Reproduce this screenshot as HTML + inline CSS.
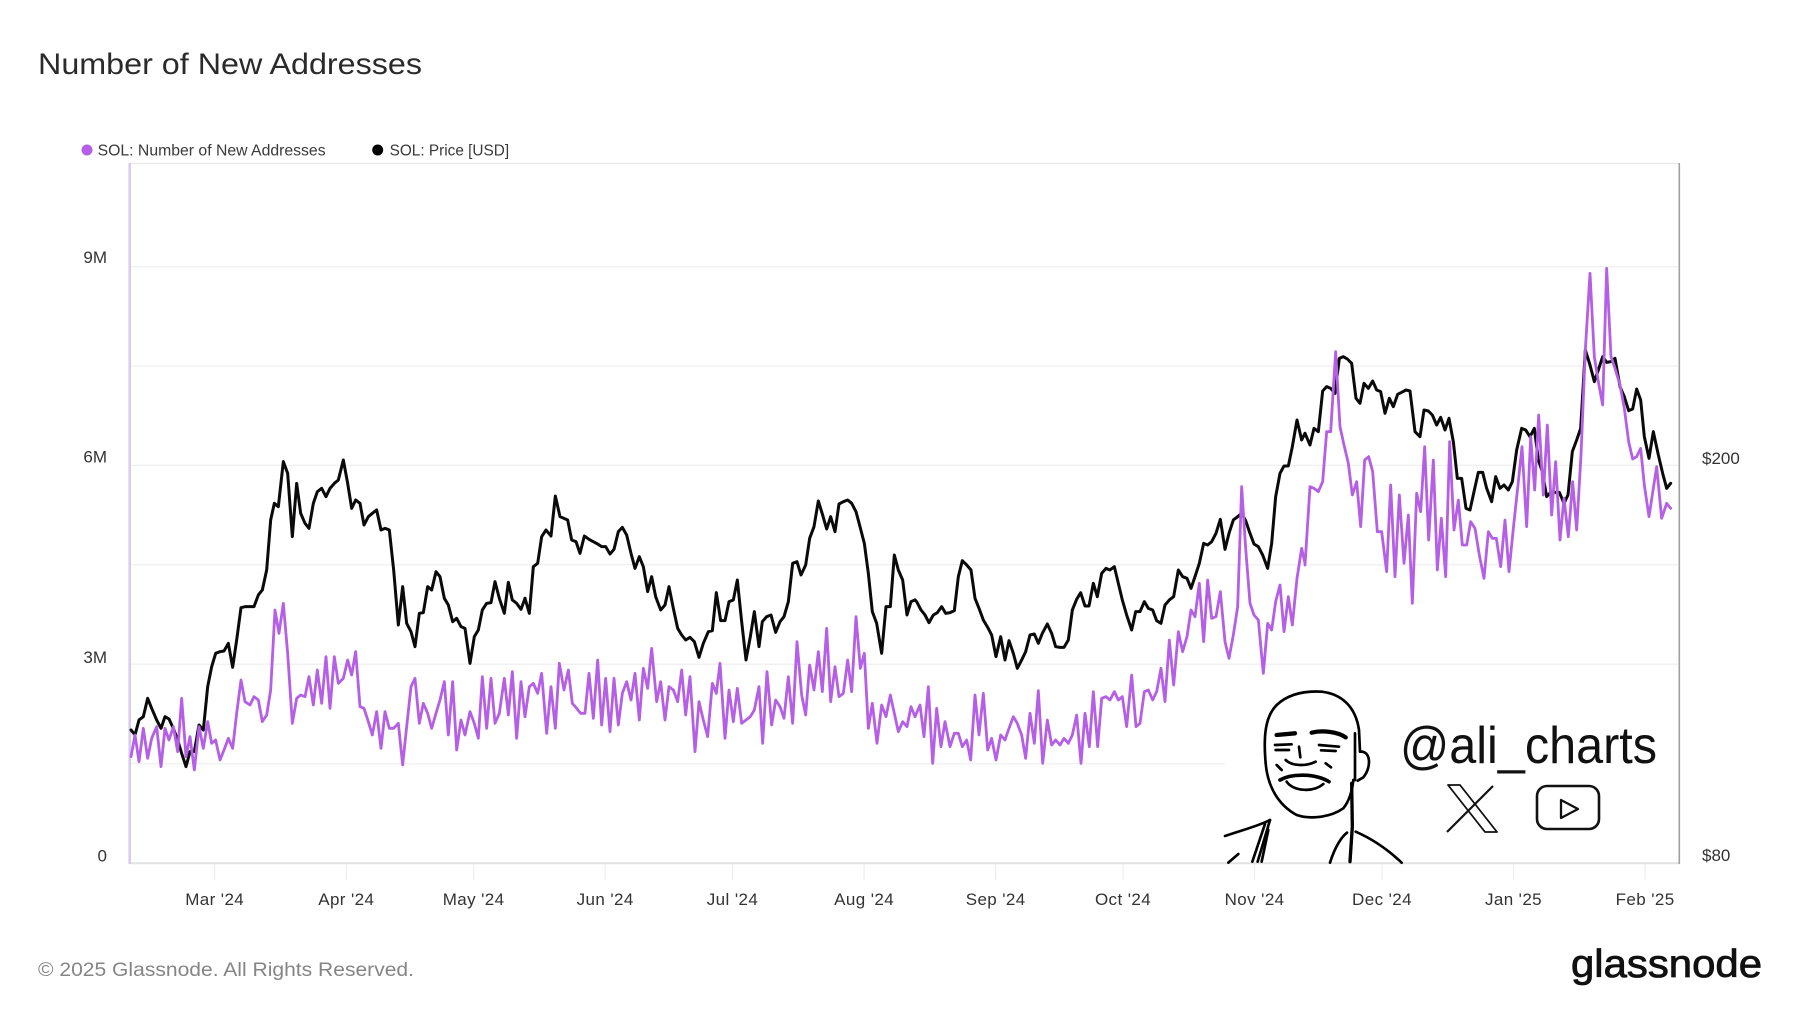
<!DOCTYPE html>
<html><head><meta charset="utf-8"><style>
html,body{margin:0;padding:0;background:#fff;}
svg{display:block;font-family:"Liberation Sans",Arial,sans-serif;}
</style></head><body>
<svg width="1800" height="1013" viewBox="0 0 1800 1013" xmlns="http://www.w3.org/2000/svg">
<rect width="1800" height="1013" fill="#fff"/>
<text x="38" y="74" font-size="29.5" fill="#2a2a2a" textLength="384" lengthAdjust="spacingAndGlyphs">Number of New Addresses</text>
<circle cx="87" cy="150" r="5.5" fill="#b45fe5"/>
<text x="97.6" y="155.5" font-size="15.5" fill="#3a3a3a" textLength="228" lengthAdjust="spacingAndGlyphs">SOL: Number of New Addresses</text>
<circle cx="377.7" cy="150" r="5.5" fill="#000"/>
<text x="389.6" y="155.5" font-size="15.5" fill="#3a3a3a" textLength="119.5" lengthAdjust="spacingAndGlyphs">SOL: Price [USD]</text>
<g stroke="#f1f1f1" stroke-width="1.5">
<line x1="131" y1="266.6" x2="1678" y2="266.6"/>
<line x1="131" y1="366" x2="1678" y2="366"/>
<line x1="131" y1="465.4" x2="1678" y2="465.4"/>
<line x1="131" y1="564.8" x2="1678" y2="564.8"/>
<line x1="131" y1="664.2" x2="1678" y2="664.2"/>
<line x1="131" y1="763.6" x2="1678" y2="763.6"/>
</g>
<line x1="130" y1="163.5" x2="1679" y2="163.5" stroke="#ebebeb" stroke-width="1.5"/>
<line x1="130" y1="863.3" x2="1679" y2="863.3" stroke="#e2e2e2" stroke-width="2"/>
<g stroke="#eeeeee" stroke-width="1.2">
<line x1="214.7" y1="864" x2="214.7" y2="880"/><line x1="346.3" y1="864" x2="346.3" y2="880"/>
<line x1="473.6" y1="864" x2="473.6" y2="880"/><line x1="605.2" y1="864" x2="605.2" y2="880"/>
<line x1="732.5" y1="864" x2="732.5" y2="880"/><line x1="864.1" y1="864" x2="864.1" y2="880"/>
<line x1="995.7" y1="864" x2="995.7" y2="880"/><line x1="1123" y1="864" x2="1123" y2="880"/>
<line x1="1254.6" y1="864" x2="1254.6" y2="880"/><line x1="1382" y1="864" x2="1382" y2="880"/>
<line x1="1513.5" y1="864" x2="1513.5" y2="880"/><line x1="1645.1" y1="864" x2="1645.1" y2="880"/>
</g>
<!-- watermark white box -->
<rect x="1225" y="676" width="453" height="186" fill="#fff"/>
<line x1="129.7" y1="163" x2="129.7" y2="864" stroke="#d9c9ee" stroke-width="2.5"/>
<line x1="1679.3" y1="163" x2="1679.3" y2="864" stroke="#a0a0a0" stroke-width="1.6"/>
<g font-size="17" fill="#333" text-anchor="end">
<text x="107" y="263">9M</text><text x="107" y="462.5">6M</text><text x="107" y="663">3M</text><text x="107" y="861.5">0</text>
</g>
<g font-size="17" fill="#333">
<text x="1702" y="464">$200</text><text x="1702" y="861">$80</text>
</g>
<g font-size="17" fill="#333" text-anchor="middle" letter-spacing="0.4">
<text x="214.7" y="905">Mar '24</text><text x="346.3" y="905">Apr '24</text><text x="473.6" y="905">May '24</text>
<text x="605.2" y="905">Jun '24</text><text x="732.5" y="905">Jul '24</text><text x="864.1" y="905">Aug '24</text>
<text x="995.7" y="905">Sep '24</text><text x="1123" y="905">Oct '24</text><text x="1254.6" y="905">Nov '24</text>
<text x="1382" y="905">Dec '24</text><text x="1513.5" y="905">Jan '25</text><text x="1645.1" y="905">Feb '25</text>
</g>
<!-- watermark face -->
<g transform="translate(1215,680) scale(0.33333)" fill="none" stroke="#000" stroke-width="8" stroke-linecap="round" stroke-linejoin="round">
<path d="M152,250 C145,170 150,110 185,75 C220,42 270,32 320,35 C380,42 422,80 432,150 L435,215"/>
<path d="M152,250 C158,320 190,375 245,405 C290,420 350,410 385,385 C405,360 412,330 415,300"/>
<path d="M420,160 L420,300"/>
<path d="M435,215 C468,212 470,262 445,292 L428,302"/>
<path d="M185,165 L240,160" stroke-width="13"/>
<path d="M290,158 C320,150 368,155 392,172" stroke-width="13"/>
<path d="M180,195 L230,193"/><path d="M182,210 L222,210"/>
<path d="M312,195 L372,200"/><path d="M318,211 L362,213"/>
<path d="M252,200 L256,232"/>
<path d="M212,240 C230,258 272,260 302,245"/>
<path d="M185,255 L200,270"/><path d="M332,250 L348,262"/>
<path d="M195,300 C230,280 300,280 342,305" stroke-width="11"/>
<path d="M215,305 C232,332 292,340 325,312"/>
<path d="M30,468 C90,448 135,436 165,420"/>
<path d="M165,420 L128,545"/><path d="M150,432 L112,545"/><path d="M160,450 L140,545"/>
<path d="M40,548 L70,522"/>
<path d="M410,310 L412,440 L405,545" stroke-width="10"/>
<path d="M422,455 C475,478 520,510 560,548"/>
<path d="M345,548 C360,500 380,470 396,458"/>
</g>
<text x="1400" y="763" font-size="52" fill="#111" textLength="257" lengthAdjust="spacingAndGlyphs">@ali_charts</text>
<polygon points="1448,785 1460,785 1497,832 1485,832" fill="none" stroke="#111" stroke-width="1.8" stroke-linejoin="round"/>
<line x1="1493" y1="786" x2="1447" y2="832" stroke="#111" stroke-width="2.2"/>
<rect x="1537" y="786" width="62" height="43" rx="10" fill="none" stroke="#111" stroke-width="2.6"/>
<polygon points="1561,800 1561,818 1578,809" fill="none" stroke="#111" stroke-width="2.3" stroke-linejoin="round"/>
<!-- Price (black) -->
<g fill="none" stroke="#0a0a0a" stroke-width="9" stroke-linejoin="round" stroke-linecap="round">
<polyline transform="translate(125,420) scale(0.33333)" points="18,930 30,945 42,900 55,890 68,835 80,865 95,900 108,925 120,890 132,897 145,925 158,960 170,1000 183,1040 195,995 208,995 222,915 235,930 248,800 260,740 272,700 285,695 297,693 310,670 323,742 335,660 348,563 360,560 375,560 387,560 400,525 412,510 425,450 437,300 448,250 460,260 475,125 488,160 502,350 515,190 527,280 540,310 552,325 565,250 577,215 590,205 603,230 615,205 628,190 640,180 655,120 668,190 680,265 692,240 705,250 717,315 730,290 742,280 755,270 768,330 780,325 793,330 806,450 820,615 833,500 845,610 858,635 870,680 883,580 895,578 908,500 920,510 933,455 945,470 958,535 970,555 983,605 995,595 1008,620 1020,625 1035,730 1048,650 1060,630 1072,570 1085,550 1098,548 1110,485 1123,535 1138,580 1150,487 1162,540 1175,550 1188,568 1200,535"/>
<polyline transform="translate(515,420) scale(0.33333)" points="30,535 43,580 55,440 68,430 80,350 93,330 108,348 121,228 135,290 147,295 158,300 170,360 183,365 195,400 208,348 222,358 235,365 248,372 260,380 272,380 285,402 297,388 310,335 322,322 335,345 348,400 360,445 373,410 385,440 398,515 410,470 422,530 437,570 450,555 462,500 475,565 488,625 500,645 512,660 525,652 538,665 552,712 565,670 580,635 592,632 604,518 617,602 630,602 642,545 655,540 667,480 680,605 693,720 706,650 718,575 732,680 742,605 755,590 768,585 782,637 795,605 807,590 820,545 833,430 846,425 858,465 872,435 884,355 897,320 910,243 922,282 935,327 947,290 960,335 972,252 985,245 998,240 1010,250 1023,275 1035,320 1048,370 1060,460 1072,575 1085,610 1100,700 1113,560 1126,560 1138,405 1150,450 1163,480 1176,585 1188,545 1200,540"/>
<polyline transform="translate(905,330) scale(0.33333)" points="30,810 35,815 48,840 60,855 72,878 85,855 97,848 110,830 122,850 135,848 148,842 160,740 172,692 185,705 198,720 210,805 222,835 235,870 248,892 260,915 273,980 287,920 300,990 312,932 325,970 337,1015 350,990 362,965 375,915 388,912 400,940 412,910 427,882 440,910 452,950 465,952 477,952 490,930 502,840 515,808 527,788 540,828 552,828 565,760 577,800 590,730 603,715 615,720 628,710 640,760 652,810 665,855 680,900 692,845 705,845 718,815 730,835 743,840 755,872 768,880 780,825 793,810 806,800 820,720 833,740 846,745 858,775 870,740 883,700 896,640 908,645 920,635 933,610 946,568 960,658 972,610 985,570 998,560 1010,550 1022,572 1035,610 1047,642 1060,650 1073,675 1088,715 1100,640 1112,500 1125,430 1137,408 1150,408 1162,350 1176,270 1190,330 1200,310"/>
<polyline transform="translate(1290,255) scale(0.33333)" points="45,535 60,570 72,520 85,530 98,408 110,395 122,400 135,415 148,310 160,305 172,312 185,325 198,430 210,445 222,385 235,400 248,378 260,405 272,410 285,475 298,430 310,455 323,418 335,412 348,405 360,408 375,530 390,545 402,465 415,468 427,480 440,510 452,487 465,525 477,490 490,560 502,670 515,670 528,760 540,765 552,710 565,652 578,652 590,700 605,740 617,665 630,700 642,690 655,705 667,680 680,585 695,520 707,525 720,545 733,520 745,615 757,650 770,725 782,712 795,712 808,712 822,745 834,720 847,590 860,555 872,520 886,285 900,330 913,380 925,345 938,305 950,322 963,320 975,310 990,395 1003,425 1016,467 1028,462 1040,402 1052,435 1063,545 1077,610 1090,530 1105,600 1118,655 1130,700 1142,685"/>
</g>
<!-- New addresses (purple) -->
<g fill="none" stroke="#b45fe5" stroke-width="8.4" stroke-linejoin="round" stroke-linecap="round">
<polyline transform="translate(125,420) scale(0.33333)" points="18,1010 30,945 42,1025 55,925 68,1015 80,955 95,920 108,1040 120,925 132,960 145,920 158,995 170,835 183,1010 195,950 208,1050 222,920 235,985 248,905 260,970 272,960 285,1020 297,990 310,955 323,985 335,880 348,780 360,845 375,855 387,830 400,840 412,905 425,885 437,810 450,570 462,640 475,550 488,700 502,910 515,835 527,825 540,830 552,770 565,855 577,750 590,850 603,710 615,865 628,710 640,790 655,775 668,720 680,765 692,695 705,860 717,865 730,905 742,945 755,875 768,985 780,875 793,925 806,925 820,910 833,1035 845,920 858,800 870,775 883,910 895,850 908,880 920,925 933,880 945,840 958,785 970,945 983,785 995,990 1008,900 1020,945 1035,875 1048,910 1060,955 1072,770 1085,925 1098,775 1110,910 1123,880 1138,775 1150,885 1162,755 1175,955 1188,785 1200,890"/>
<polyline transform="translate(515,420) scale(0.33333)" points="30,890 43,800 55,790 68,820 80,760 95,940 108,800 121,925 133,730 147,810 160,750 172,850 185,865 197,880 210,880 222,760 235,895 248,720 260,915 272,775 285,935 297,775 310,915 322,820 335,785 348,840 360,760 373,900 385,745 398,805 410,685 425,845 437,785 450,900 462,800 475,810 488,845 500,750 512,885 525,770 540,995 552,845 565,900 578,950 592,790 604,820 615,730 630,955 642,810 655,905 667,805 680,910 693,900 706,890 718,870 732,800 743,970 756,755 770,915 782,840 795,860 807,895 820,770 833,910 846,665 860,825 872,885 884,735 897,810 910,695 922,815 935,625 947,845 960,740 972,830 985,820 998,720 1010,815 1023,590 1036,745 1048,700 1060,925 1072,850 1086,970 1100,855 1113,890 1126,825 1138,880 1150,935 1163,905 1176,920 1188,860 1200,890"/>
<polyline transform="translate(905,330) scale(0.33333)" points="30,1160 45,1125 57,1220 70,1070 83,1300 95,1135 108,1250 120,1175 135,1250 148,1210 160,1210 172,1250 185,1230 197,1290 210,1095 222,1215 235,1090 248,1260 260,1225 273,1290 287,1215 300,1230 312,1195 325,1160 337,1180 350,1215 362,1285 375,1150 388,1240 400,1082 413,1300 427,1170 440,1245 452,1230 465,1245 477,1225 490,1240 502,1215 515,1155 528,1300 540,1150 553,1250 565,1085 578,1250 590,1105 603,1100 615,1110 628,1085 640,1110 652,1100 665,1190 680,1035 693,1190 705,1180 718,1085 730,1080 743,1110 755,1085 768,1015 780,1115 793,930 806,1065 820,905 833,965 846,920 858,840 870,860 883,760 896,935 908,750 920,865 933,860 946,785 960,935 972,985 985,915 998,830 1010,470 1022,655 1035,820 1047,855 1060,870 1075,1030 1088,880 1100,900 1112,815 1125,765 1137,905 1150,800 1162,885 1176,745 1190,655 1200,700"/>
<polyline transform="translate(1290,255) scale(0.33333)" points="45,930 60,695 72,700 85,710 98,680 110,530 122,530 137,290 150,515 162,570 175,625 187,720 200,680 212,815 224,615 236,605 248,650 262,830 275,830 290,950 302,690 315,965 328,720 342,925 355,780 367,1045 380,715 392,770 404,575 416,855 430,615 442,945 454,790 467,965 479,560 492,825 505,735 517,870 530,870 542,800 555,820 568,900 582,970 595,830 607,850 619,850 632,935 645,795 657,950 670,820 684,690 696,575 710,815 722,545 734,705 746,480 760,720 772,510 785,780 797,620 810,855 822,730 835,845 848,680 860,825 873,600 886,285 900,55 913,305 925,380 938,450 950,40 963,305 975,340 990,390 1003,460 1016,560 1028,612 1040,605 1052,580 1063,690 1077,785 1090,700 1100,635 1115,790 1130,745 1142,760"/>
</g>
<text x="38" y="976" font-size="19.5" fill="#858585" textLength="376" lengthAdjust="spacingAndGlyphs">© 2025 Glassnode. All Rights Reserved.</text>
<text x="1571" y="977" font-size="39" fill="#111" stroke="#111" stroke-width="0.8" textLength="191" lengthAdjust="spacingAndGlyphs">glassnode</text>
</svg>
</body></html>
